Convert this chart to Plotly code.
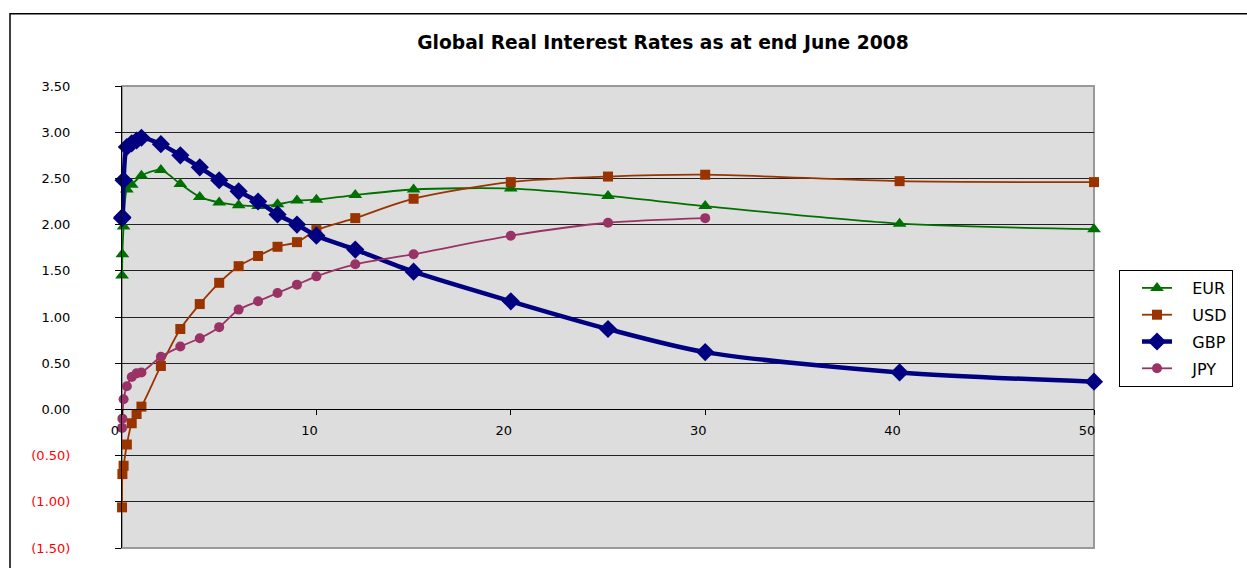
import plotly.graph_objects as go

# ---------------- data ----------------
eur_x = [0.003, 0.02, 0.083, 0.25, 0.5, 1, 2, 3, 4, 5, 6, 7, 8, 9, 10, 12, 15, 20, 25, 30, 40, 50]
eur_y = [1.45, 1.68, 1.98, 2.38, 2.43, 2.53, 2.59, 2.44, 2.30, 2.24, 2.21, 2.20, 2.22, 2.26, 2.27,
         2.32, 2.38, 2.39, 2.31, 2.20, 2.01, 1.95]

usd_x = [0.003, 0.02, 0.083, 0.25, 0.5, 0.75, 1, 2, 3, 4, 5, 6, 7, 8, 9, 10, 12, 15, 20, 25, 30, 40, 50]
usd_y = [-1.06, -0.70, -0.61, -0.38, -0.15, -0.05, 0.03, 0.47, 0.87, 1.14, 1.37, 1.55, 1.66, 1.76,
         1.81, 1.94, 2.07, 2.28, 2.46, 2.52, 2.54, 2.47, 2.46]

gbp_x = [0.003, 0.02, 0.083, 0.25, 0.5, 0.75, 1, 2, 3, 4, 5, 6, 7, 8, 9, 10, 12, 15, 20, 25, 30, 40, 50]
gbp_y = [2.07, 2.08, 2.48, 2.84, 2.88, 2.91, 2.94, 2.87, 2.75, 2.62, 2.48, 2.36, 2.25, 2.11, 2.00,
         1.88, 1.73, 1.49, 1.17, 0.87, 0.62, 0.40, 0.30]

jpy_x = [0.003, 0.02, 0.083, 0.25, 0.5, 0.75, 1, 2, 3, 4, 5, 6, 7, 8, 9, 10, 12, 15, 20, 25, 30]
jpy_y = [-0.20, -0.10, 0.11, 0.25, 0.35, 0.39, 0.40, 0.57, 0.68, 0.77, 0.89, 1.08, 1.17, 1.26, 1.35,
         1.44, 1.57, 1.68, 1.88, 2.02, 2.07]

y_ticks = [-1.5, -1.0, -0.5, 0.0, 0.5, 1.0, 1.5, 2.0, 2.5, 3.0, 3.5]
x_ticks = [0, 10, 20, 30, 40, 50]
title_text = "Global Real Interest Rates as at end June 2008"


def fmt(v):
    if v < 0:
        return "<span style='color:#ff0000'>(%.2f)</span>" % abs(v)
    return "%.2f" % v


y_text = [fmt(v) for v in y_ticks]

FONT = "DejaVu Sans"

fig = go.Figure()
series = [
    ("EUR", eur_x, eur_y, "#007000", 1.8, "triangle-up", 12),
    ("USD", usd_x, usd_y, "#993300", 1.8, "square", 10),
    ("GBP", gbp_x, gbp_y, "#000080", 4.5, "diamond", 14),
    ("JPY", jpy_x, jpy_y, "#993366", 1.8, "circle", 10),
]
for name, xs, ys, col, lw, sym, ms in series:
    fig.add_trace(go.Scatter(
        x=xs, y=ys, name="\u00a0\u00a0\u00a0" + name, mode="lines+markers", legendgroup=name,
        cliponaxis=False,
        line=dict(color=col, width=lw, shape="spline", smoothing=0.8),
        marker=dict(symbol=sym, size=ms, color=col, line=dict(width=0)),
    ))

L, R, T, B = 122, 153, 86, 15
W, H = 1247, 568
pw = W - L - R
ph = H - T - B

fig.update_layout(
    width=W, height=H,
    margin=dict(l=L, r=R, t=T, b=B, pad=0),
    paper_bgcolor="white",
    plot_bgcolor="#dddddd",
    font=dict(family=FONT, size=13, color="#000000"),
    title=dict(text="<b>%s</b>" % title_text, x=663 / W, xanchor="center",
               y=1 - 42 / H, yanchor="middle", font=dict(family=FONT, size=18.7, color="#000000")),
    xaxis=dict(range=[0, 50], tickvals=x_ticks, ticktext=[str(v) for v in x_ticks],
               showgrid=False, zeroline=False, showline=True, linecolor="#000000", linewidth=1,
               ticks="outside", ticklen=5, tickcolor="#000000", anchor="free", position=1.5 / 5,
               ticklabelshift=-7, ticklabelstandoff=4, tickfont=dict(size=13)),
    yaxis=dict(range=[-1.5, 3.5], tickvals=y_ticks, ticktext=y_text,
               showgrid=True, gridcolor="#222222", gridwidth=1, zeroline=False,
               showline=True, linecolor="#000000", linewidth=1,
               ticks="outside", ticklen=6, tickcolor="#000000",
               ticklabelstandoff=42, tickfont=dict(size=13)),
    legend=dict(x=(1119 - L) / pw, y=(H - B - 272) / ph, xanchor="left", yanchor="top",
                bgcolor="white", bordercolor="#000000", borderwidth=1,
                font=dict(family=FONT, size=16, color="#000000"),
                tracegroupgap=3, indentation=17),
    showlegend=True,
    shapes=[
        dict(type="rect", xref="paper", yref="paper", x0=0, y0=0, x1=1, y1=1,
             line=dict(color="#999999", width=2), layer="below"),
        dict(type="rect", xref="paper", yref="paper",
             x0=(10 - L) / pw, y0=-0.2, x1=1.3, y1=(H - B - 13) / ph,
             line=dict(color="#000000", width=1.5), fillcolor="rgba(0,0,0,0)", layer="below"),
    ],
)

fig.write_html("out.html")
